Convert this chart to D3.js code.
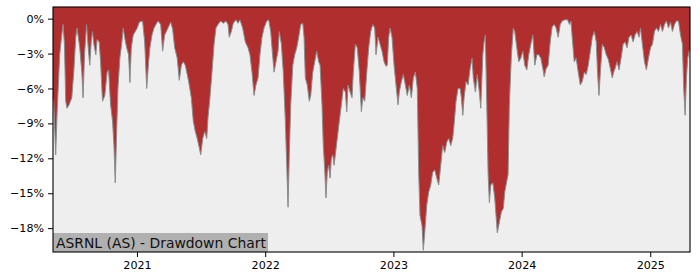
<!DOCTYPE html>
<html>
<head>
<meta charset="utf-8">
<script src="https://cdn.jsdelivr.net/npm/d3@7"></script>
<style>
body { margin: 0; background: #fff; }
svg { display: block; font-family: "DejaVu Sans", sans-serif; }
</style>
</head>
<body>
<div class="chart"></div>
<script>
// decimal years and drawdown in percent
const years = [
  2020.347, 2020.353, 2020.368, 2020.378, 2020.399, 2020.413, 2020.425, 2020.436, 2020.446, 2020.456,
  2020.472, 2020.493, 2020.509, 2020.524, 2020.534, 2020.555, 2020.571, 2020.581, 2020.592, 2020.608,
  2020.623, 2020.633, 2020.644, 2020.654, 2020.665, 2020.680, 2020.690, 2020.706, 2020.717, 2020.732,
  2020.750, 2020.768, 2020.779, 2020.795, 2020.810, 2020.821, 2020.831, 2020.842, 2020.852, 2020.867,
  2020.883, 2020.893, 2020.904, 2020.920, 2020.935, 2020.945, 2020.956, 2020.971, 2020.987,
  2021.002, 2021.018, 2021.044, 2021.060, 2021.076, 2021.091, 2021.101, 2021.117, 2021.133, 2021.148,
  2021.164, 2021.185, 2021.200, 2021.216, 2021.242, 2021.263, 2021.278, 2021.294, 2021.314, 2021.330,
  2021.346, 2021.361, 2021.377, 2021.403, 2021.424, 2021.439, 2021.455, 2021.470, 2021.486, 2021.497,
  2021.513, 2021.528, 2021.544, 2021.554, 2021.569, 2021.585, 2021.601, 2021.616, 2021.632, 2021.653,
  2021.673, 2021.694, 2021.710, 2021.720, 2021.736, 2021.751, 2021.772, 2021.788, 2021.803, 2021.824,
  2021.845, 2021.866, 2021.881, 2021.897, 2021.913, 2021.928, 2021.944, 2021.959, 2021.975, 2021.991,
  2022.012, 2022.027, 2022.043, 2022.053, 2022.069, 2022.084, 2022.100, 2022.110, 2022.126, 2022.141,
  2022.157, 2022.168, 2022.178, 2022.188, 2022.199, 2022.215, 2022.230, 2022.246, 2022.261, 2022.277,
  2022.293, 2022.303, 2022.313, 2022.328, 2022.344, 2022.355, 2022.371, 2022.386, 2022.402, 2022.417,
  2022.428, 2022.443, 2022.453, 2022.464, 2022.474, 2022.484, 2022.495, 2022.506, 2022.516, 2022.527,
  2022.537, 2022.547, 2022.562, 2022.578, 2022.594, 2022.609, 2022.625, 2022.636, 2022.646, 2022.662,
  2022.677, 2022.687, 2022.703, 2022.718, 2022.734, 2022.750, 2022.761, 2022.776, 2022.792, 2022.807,
  2022.823, 2022.839, 2022.854, 2022.864, 2022.880, 2022.896, 2022.911, 2022.927, 2022.942, 2022.952,
  2022.963, 2022.974, 2022.989,
  2023.005, 2023.020, 2023.036, 2023.046, 2023.062, 2023.077, 2023.093, 2023.108, 2023.124, 2023.140,
  2023.155, 2023.171, 2023.186, 2023.197, 2023.207, 2023.223, 2023.233, 2023.244, 2023.260, 2023.275,
  2023.291, 2023.306, 2023.322, 2023.338, 2023.353, 2023.369, 2023.384, 2023.400, 2023.416, 2023.431,
  2023.447, 2023.462, 2023.473, 2023.488, 2023.504, 2023.520, 2023.530, 2023.541, 2023.551, 2023.566,
  2023.582, 2023.598, 2023.613, 2023.623, 2023.639, 2023.654, 2023.670, 2023.681, 2023.697, 2023.707,
  2023.717, 2023.728, 2023.738, 2023.748, 2023.759, 2023.775, 2023.790, 2023.800, 2023.810, 2023.826,
  2023.842, 2023.857, 2023.868, 2023.878, 2023.894, 2023.904, 2023.920, 2023.935, 2023.946, 2023.962,
  2023.977, 2023.993,
  2024.009, 2024.024, 2024.040, 2024.055, 2024.071, 2024.087, 2024.102, 2024.118, 2024.133, 2024.149,
  2024.165, 2024.175, 2024.190, 2024.206, 2024.222, 2024.237, 2024.253, 2024.268, 2024.284, 2024.300,
  2024.315, 2024.336, 2024.357, 2024.372, 2024.383, 2024.393, 2024.409, 2024.424, 2024.440, 2024.456,
  2024.471, 2024.487, 2024.502, 2024.518, 2024.534, 2024.549, 2024.565, 2024.580, 2024.590, 2024.601,
  2024.612, 2024.627, 2024.643, 2024.658, 2024.674, 2024.690, 2024.705, 2024.715, 2024.726, 2024.742,
  2024.757, 2024.773, 2024.789, 2024.804, 2024.820, 2024.835, 2024.851, 2024.867, 2024.882, 2024.898,
  2024.913, 2024.924, 2024.939, 2024.955, 2024.970, 2024.986,
  2025.002, 2025.017, 2025.033, 2025.048, 2025.064, 2025.080, 2025.095, 2025.111, 2025.126, 2025.142,
  2025.158, 2025.173, 2025.189, 2025.204, 2025.220, 2025.236, 2025.251, 2025.261, 2025.272, 2025.282,
  2025.292, 2025.303, 2025.310
];

const drawdown = [
  -6.8, -7.1, -11.7, -8.3, -3.1, -1.6, -0.5, -2.2, -7.1, -7.7,
  -7.4, -6.8, -4.5, -1.6, -0.8, -2.5, -4.6, -6.8, -3.1, -0.5,
  -2.8, -4.0, -2.0, -1.1, -2.2, -3.1, -1.8, -2.0, -3.7, -7.1,
  -6.6, -4.6, -4.4, -7.4, -8.8, -10.9, -14.1, -9.7, -6.0, -3.4,
  -2.0, -0.8, -1.6, -2.5, -3.1, -5.5, -2.5, -1.4, -1.1,
  -0.8, -0.3, -0.2, -2.0, -6.0, -3.7, -2.5, -1.4, -0.8, -0.5,
  -0.2, -0.5, -2.8, -1.4, -0.8, -0.3, -0.9, -2.5, -3.4, -5.3,
  -4.0, -3.7, -4.0, -5.4, -6.8, -8.8, -9.7, -10.3, -11.1, -11.7,
  -10.3, -9.7, -10.3, -8.5, -6.8, -4.6, -2.2, -0.8, -0.5, -0.2,
  -0.4, -0.2, -0.5, -1.6, -1.1, -0.4, -0.1, -0.4, -0.1, -0.8,
  -2.0, -2.5, -3.1, -4.6, -6.6, -5.7, -5.1, -3.1, -1.6, -0.8,
  -0.2, -0.1, -1.1, -2.5, -4.6, -3.7, -2.8, -1.1, -2.2, -4.6,
  -8.8, -12.6, -16.2, -11.7, -7.4, -4.0, -3.1, -2.5, -1.6, -0.5,
  -0.4, -1.6, -5.1, -5.7, -7.1, -6.6, -4.6, -3.7, -2.8, -3.7,
  -4.0, -7.4, -10.9, -12.9, -15.4, -13.2, -12.6, -13.7, -12.0, -11.7,
  -12.6, -11.7, -10.3, -8.8, -7.4, -6.0, -6.3, -8.0, -5.7, -6.3,
  -6.8, -4.6, -2.2, -2.5, -4.6, -8.0, -6.8, -7.1, -4.6, -2.5,
  -1.1, -0.5, -0.8, -3.1, -1.6, -2.2, -2.8, -3.7, -4.1, -4.0,
  -1.6, -0.8, -1.6,
  -4.0, -5.7, -7.4, -6.3, -5.4, -4.8, -5.7, -6.6, -5.7, -6.8,
  -5.1, -4.6, -6.0, -13.2, -16.9, -17.8, -19.9, -18.4, -16.0, -14.9,
  -14.3, -13.2, -13.0, -13.7, -14.3, -12.6, -10.9, -11.5, -10.6, -10.3,
  -10.9, -10.3, -9.1, -7.1, -6.0, -6.0, -6.8, -8.3, -6.8, -5.4,
  -5.7, -4.3, -3.4, -5.1, -6.3, -4.8, -6.3, -7.7, -3.1, -2.0,
  -1.4, -7.4, -13.2, -15.8, -14.3, -14.1, -15.4, -16.9, -18.4, -17.5,
  -16.6, -16.3, -14.9, -14.3, -13.4, -7.4, -3.1, -0.8, -1.1, -2.5,
  -3.7, -3.4,
  -2.8, -4.0, -4.4, -3.1, -2.2, -1.4, -4.0, -3.1, -3.1, -3.4,
  -4.3, -5.0, -4.3, -4.0, -2.0, -0.7, -0.5, -0.8, -1.6, -0.5,
  -0.2, -0.1, -0.1, -0.5, -0.2, -1.6, -3.7, -3.4, -4.6, -5.7,
  -5.4, -4.6, -4.8, -4.0, -2.8, -1.6, -1.1, -2.0, -4.6, -6.6,
  -4.6, -2.2, -2.5, -3.1, -3.5, -4.3, -5.1, -4.6, -4.3, -3.7,
  -4.4, -3.4, -2.2, -2.0, -2.5, -1.6, -1.4, -2.0, -1.4, -1.1,
  -1.6, -0.8, -2.2, -3.7, -4.4, -3.4,
  -2.5, -2.2, -1.1, -0.8, -1.1, -0.5, -1.1, -0.5, -0.2, -0.8,
  -0.3, -1.1, -0.5, -0.2, -0.2, -1.4, -2.2, -6.0, -8.3, -5.1,
  -3.4, -2.8, -2.6
];

const yTicks = [0, -3, -6, -9, -12, -15, -18];
const xTicks = [2021, 2022, 2023, 2024, 2025];
const title = 'ASRNL (AS) - Drawdown Chart';

const width = 700, height = 280;
const margin = {top: 7, left: 53, right: 10, bottom: 28};

// decimal year -> Date
function toDate(v) {
    const yr = Math.floor(v);
    const s = new Date(yr, 0, 1), e = new Date(yr + 1, 0, 1);
    return new Date(+s + (v - yr) * (e - s));
}

const data = years.map((v, i) => ({date: toDate(v), value: drawdown[i]}));

const x = d3.scaleTime()
    .domain(d3.extent(data, d => d.date))
    .range([margin.left, width - margin.right]);

const y = d3.scaleLinear()
    .domain([-20.05, 1.0])
    .range([height - margin.bottom, margin.top]);

const svg = d3.select('.chart').append('svg')
    .attr('width', width)
    .attr('height', height);

svg.append('rect')
    .attr('x', margin.left).attr('y', margin.top)
    .attr('width', width - margin.left - margin.right)
    .attr('height', height - margin.top - margin.bottom)
    .attr('fill', '#eeeeee');

const area = d3.area()
    .x(d => x(d.date))
    .y0(margin.top)
    .y1(d => y(d.value));

svg.append('path')
    .datum(data)
    .attr('d', area)
    .attr('fill', '#b02e2e');

const line = d3.line()
    .x(d => x(d.date))
    .y(d => y(d.value));

svg.append('path')
    .datum(data)
    .attr('d', line)
    .attr('fill', 'none')
    .attr('stroke', '#8c8c8c')
    .attr('stroke-width', 1);

// label box bottom left
svg.append('rect')
    .attr('x', margin.left).attr('y', 233)
    .attr('width', 215).attr('height', height - margin.bottom - 233)
    .attr('fill', '#b0b0b0');

svg.append('text')
    .attr('x', margin.left + 3).attr('y', 247.5)
    .attr('font-size', '13.9px')
    .attr('fill', '#111')
    .text(title);

const fmt = d => d === 0 ? '0%' : '\u2212' + Math.abs(d) + '%';

const yAxis = svg.append('g')
    .attr('transform', `translate(${margin.left},0)`)
    .call(d3.axisLeft(y).tickValues(yTicks).tickFormat(fmt).tickSize(5).tickPadding(4));

const xAxis = svg.append('g')
    .attr('transform', `translate(0,${height - margin.bottom})`)
    .call(d3.axisBottom(x).tickValues(xTicks.map(v => new Date(v, 0, 1)))
        .tickFormat(d3.timeFormat('%Y')).tickSize(5).tickPadding(4));

[yAxis, xAxis].forEach(g => {
    g.select('.domain').remove();
    g.selectAll('text').attr('font-size', '11.1px').attr('fill', '#000')
        .attr('font-family', '"DejaVu Sans", sans-serif');
    g.selectAll('line').attr('stroke', '#000');
});

// frame
svg.append('rect')
    .attr('x', margin.left).attr('y', margin.top)
    .attr('width', width - margin.left - margin.right)
    .attr('height', height - margin.top - margin.bottom)
    .attr('fill', 'none')
    .attr('stroke', '#000')
    .attr('stroke-width', 1.1);
</script>
</body>
</html>
